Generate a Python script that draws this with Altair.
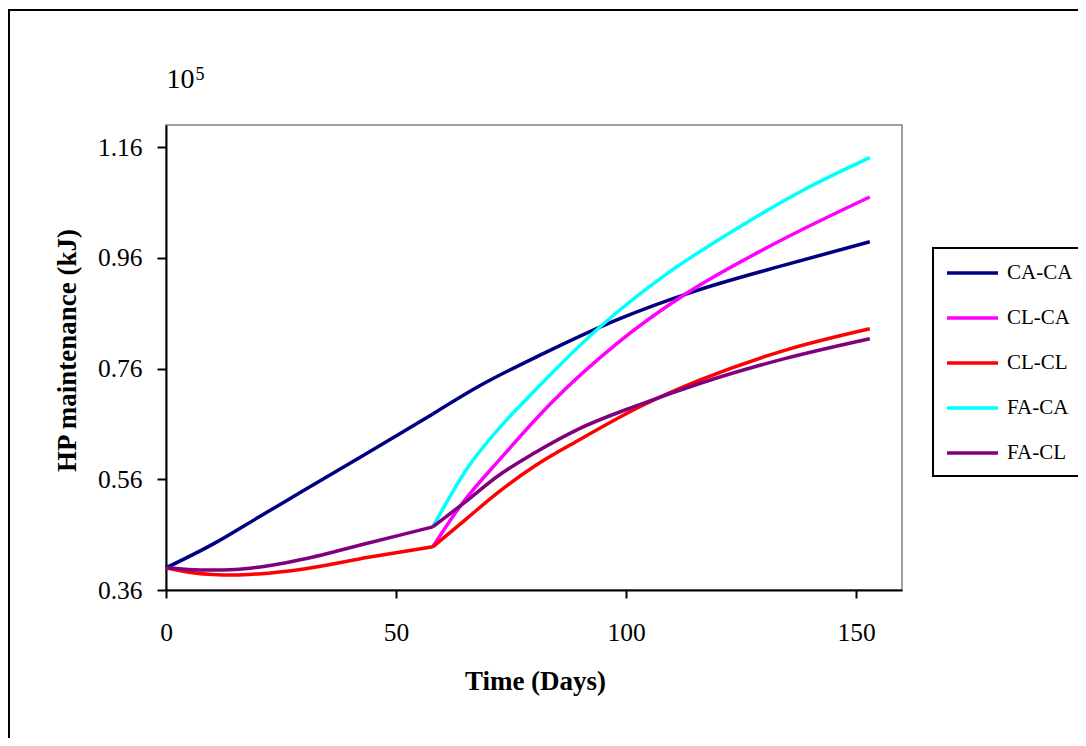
import altair as alt
import pandas as pd

# ---------------- data ----------------
series_names = ["CA-CA", "CL-CA", "CL-CL", "FA-CA", "FA-CL"]
series_colors = ["#000080", "#FF00FF", "#FF0000", "#00FFFF", "#800080"]
kink_day = 58

ca_ca_days = [0, 10, 20, 30, 40, 50, 58, 68, 82, 98, 115, 134, 153]
ca_ca_vals = [0.400, 0.442, 0.491, 0.540, 0.589, 0.638, 0.678, 0.728, 0.787, 0.848, 0.900, 0.946, 0.989]

cl_ca_days = [58, 64, 73, 84, 98, 113, 131, 153]
cl_ca_vals = [0.438, 0.512, 0.600, 0.700, 0.805, 0.895, 0.980, 1.070]

cl_cl_days = [0, 5, 10, 15, 20, 30, 44, 58, 65.5, 72, 80, 90, 103, 116, 134.5, 153]
cl_cl_vals = [0.400, 0.392, 0.388, 0.387, 0.389, 0.398, 0.419, 0.438, 0.490, 0.535, 0.583, 0.632, 0.691, 0.739, 0.793, 0.832]

fa_ca_days = [58, 65.5, 74, 78.5, 84, 95, 109, 123.5, 138, 153]
fa_ca_vals = [0.474, 0.580, 0.667, 0.706, 0.753, 0.840, 0.932, 1.010, 1.080, 1.141]

fa_cl_days = [0, 5, 10, 15, 20, 30, 44, 58, 65.5, 72, 80, 90, 103, 116, 134.5, 153]
fa_cl_vals = [0.400, 0.397, 0.396, 0.397, 0.401, 0.416, 0.445, 0.474, 0.522, 0.565, 0.607, 0.652, 0.695, 0.733, 0.778, 0.814]

x_ticks = [0, 50, 100, 150]
y_ticks = [0.36, 0.56, 0.76, 0.96, 1.16]
x_title = "Time (Days)"
y_title = "HP maintenance (kJ)"
scale_base_text = "10"
scale_exp_text = "5"

# ---------------- table ----------------
series_data = {
    "CA-CA": (ca_ca_days, ca_ca_vals),
    "CL-CA": (cl_ca_days, cl_ca_vals),
    "CL-CL": (cl_cl_days, cl_cl_vals),
    "FA-CA": (fa_ca_days, fa_ca_vals),
    "FA-CL": (fa_cl_days, fa_cl_vals),
}
rows = []
for name, (days, vals) in series_data.items():
    for d, v in zip(days, vals):
        if d <= kink_day:
            rows.append({"series": name, "seg": name + "-a", "day": d, "value": v})
        if d >= kink_day:
            rows.append({"series": name, "seg": name + "-b", "day": d, "value": v})
df = pd.DataFrame(rows)

FONT = "Liberation Serif"

x_axis = alt.Axis(
    values=x_ticks, title=x_title, grid=False,
    domainColor="black", domainWidth=2, tickColor="black", tickWidth=2, tickSize=8,
    labelFont=FONT, labelFontSize=25.5, labelColor="black", labelPadding=22,
    labelFlush=False, labelOverlap=False,
    titleFont=FONT, titleFontSize=27, titleFontWeight="bold", titleColor="black",
    titleX=369, titleY=99, titleBaseline="alphabetic", titleAlign="center",
)
y_axis = alt.Axis(
    values=y_ticks, format=".2f", title=y_title, grid=False,
    domainColor="black", domainWidth=2, tickColor="black", tickWidth=2, tickSize=9,
    labelFont=FONT, labelFontSize=25.5, labelColor="black", labelPadding=15,
    labelOverlap=False,
    titleFont=FONT, titleFontSize=27, titleFontWeight="bold", titleColor="black",
    titleAngle=270, titleX=-91, titleY=225, titleBaseline="alphabetic", titleAlign="center",
)

color = alt.Color(
    "series:N",
    scale=alt.Scale(domain=series_names, range=series_colors),
    legend=alt.Legend(
        title=None, orient="none", legendX=767, legendY=123, padding=13,
        strokeColor="black", fillColor="white",
        symbolType="M-1.1,0H4", symbolSize=400, symbolStrokeWidth=3.5,
        labelFont=FONT, labelFontSize=21, labelColor="black", labelOffset=37,
        rowPadding=23, labelLimit=300,
    ),
)

draw_order = ["CA-CA", "CL-CA", "FA-CA", "CL-CL", "FA-CL"]
layers = []

frame = alt.Chart(pd.DataFrame({"k": [0]})).mark_rect(
    fill="white", fillOpacity=0, stroke="black", strokeWidth=2
).encode(x=alt.value(-157), y=alt.value(-115), x2=alt.value(1100), y2=alt.value(700))
layers.append(frame)

for name in draw_order:
    layers.append(
        alt.Chart(df).transform_filter(alt.datum.series == name)
        .mark_line(strokeWidth=3.5, interpolate="monotone")
        .encode(
            x=alt.X("day:Q", scale=alt.Scale(domain=[0, 160], nice=False, zero=False), axis=x_axis),
            y=alt.Y("value:Q", scale=alt.Scale(domain=[0.36, 1.2], nice=False, zero=False), axis=y_axis),
            color=color,
            detail="seg:N",
        )
    )

base_txt = alt.Chart(pd.DataFrame({"t": [scale_base_text]})).mark_text(
    align="left", baseline="alphabetic", font=FONT, fontSize=28, color="black"
).encode(text="t:N", x=alt.value(0.5), y=alt.value(-37))
exp_txt = alt.Chart(pd.DataFrame({"t": [scale_exp_text]})).mark_text(
    align="left", baseline="alphabetic", font=FONT, fontSize=18, color="black"
).encode(text="t:N", x=alt.value(29.5), y=alt.value(-45))
layers += [base_txt, exp_txt]

chart = alt.layer(*layers).properties(
    width=736, height=465,
    autosize=alt.AutoSizeParams(type="none"),
    padding={"left": 158, "top": 117, "right": 176, "bottom": 148},
    background="white",
).configure_view(stroke="#808080", strokeWidth=1.5).configure_legend(strokeWidth=2)

chart.save("out.html", embed_options={"renderer": "svg", "actions": False})
